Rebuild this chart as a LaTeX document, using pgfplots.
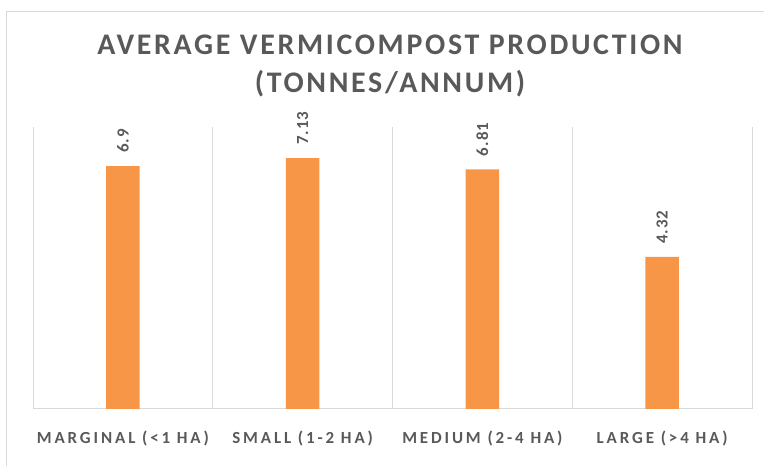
\documentclass[border=0pt]{standalone}
\usepackage{pgfplots}
\pgfplotsset{compat=1.18}
\usepackage{fontspec}
\setmainfont{Carlito}
\newfontfamily\titlefont[LetterSpace=9]{Carlito}
\newfontfamily\labfont[LetterSpace=17]{Carlito}
\newfontfamily\valfont[LetterSpace=6]{Carlito}
\definecolor{barc}{HTML}{F79646}
\definecolor{txt}{HTML}{595959}
\definecolor{gridc}{HTML}{D9D9D9}
\begin{document}
\begin{tikzpicture}[x=1bp,y=1bp]
\path[use as bounding box] (0,0) rectangle (764,466);
\draw[gridc, line width=1bp] (6,0) -- (6,454) -- (764,454);
\node[text=txt, align=center, font=\titlefont\bfseries\fontsize{30}{38}\selectfont] at (390,400) {AVERAGE VERMICOMPOST PRODUCTION\\(TONNES/ANNUM)};
\begin{axis}[
  at={(33bp,57bp)}, anchor=south west,
  scale only axis, width=719bp, height=281.6bp,
  xmin=-0.5, xmax=3.5, ymin=0, ymax=8,
  axis x line=bottom, axis y line=none,
  x axis line style={gridc, -, line width=1bp},
  major tick length=0pt,
  ytick=\empty,
  xtick={0,1,2,3},
  xticklabels={MARGINAL (<1 HA), SMALL (1-2 HA), MEDIUM (2-4 HA), LARGE (>4 HA)},
  xticklabel style={text=txt, font=\labfont\bfseries\fontsize{17}{20}\selectfont, yshift=-18.5bp},
  extra x ticks={-0.5,0.5,1.5,2.5,3.5},
  extra x tick labels={},
  extra x tick style={grid=major, major grid style={gridc, line width=1bp}},
  /pgf/number format/assume math mode=true,
  nodes near coords,
  every node near coord/.append style={yshift=13bp, rotate=90, anchor=west, inner sep=0pt, text=txt, font=\valfont\bfseries\fontsize{17}{20}\selectfont},
  clip=false,
]
\addplot[ybar, bar width=33.7bp, fill=barc, draw=none] coordinates {(0,6.9) (1,7.13) (2,6.81) (3,4.32)};
\end{axis}
\end{tikzpicture}
\end{document}
